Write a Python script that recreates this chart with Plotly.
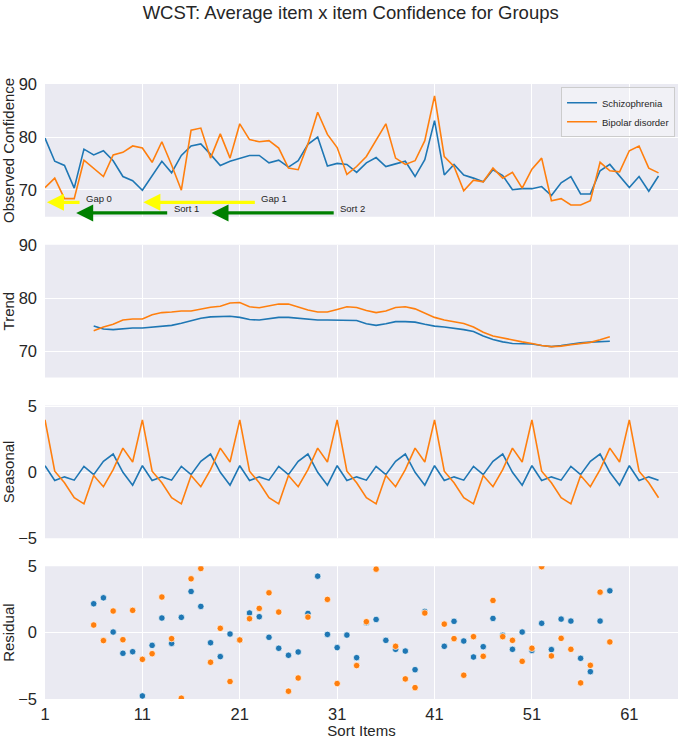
import plotly.graph_objects as go
from plotly.subplots import make_subplots

# ---------------- data ----------------
items = list(range(1, 65))
trend_items = list(range(6, 60))

observed_schizophrenia = [
    79.8, 75.4, 74.6, 70.3, 77.7, 76.6, 77.4, 75.5, 72.5, 71.7,
    69.9, 72.7, 75.4, 73.2, 76.5, 78.3, 78.7, 76.7, 74.6, 75.4,
    76.0, 76.5, 76.5, 75.1, 75.6, 74.3, 75.5, 78.6, 80.0, 74.5,
    75.0, 74.8, 73.3, 75.1, 76.1, 74.4, 74.9, 75.4, 72.5, 75.7,
    83.1, 72.8, 74.8, 72.8, 72.2, 71.5, 73.8, 72.7, 70.0, 70.2,
    70.2, 70.6, 68.9, 71.3, 72.5, 69.2, 69.2, 73.6, 74.8, 72.6,
    70.4, 72.5, 69.7, 72.6,
]
observed_bipolar = [
    70.4, 72.2, 68.3, 68.3, 75.6, 74.1, 72.5, 76.6, 77.1, 78.3,
    77.9, 75.2, 79.1, 74.7, 69.9, 81.3, 81.7, 76.0, 80.6, 76.0,
    82.5, 79.5, 79.1, 79.3, 77.9, 74.1, 73.8, 78.7, 84.7, 80.5,
    78.0, 72.9, 74.4, 76.3, 79.3, 82.5, 76.0, 74.8, 75.5, 79.3,
    87.8, 76.3, 74.4, 69.8, 71.8, 71.5, 74.1, 72.2, 73.3, 70.3,
    73.9, 76.0, 67.9, 68.3, 67.1, 67.1, 67.9, 75.2, 73.6, 73.4,
    77.4, 78.3, 74.1, 73.2,
]

trend_schizophrenia = [
    74.8, 74.2, 74.1, 74.3, 74.4, 74.4, 74.6, 74.75, 74.9, 75.3,
    75.8, 76.25, 76.5, 76.6, 76.6, 76.4, 76.0, 75.9, 76.2, 76.4,
    76.4, 76.2, 76.0, 75.9, 75.9, 75.9, 75.8, 75.8, 75.2, 74.9,
    75.2, 75.6, 75.6, 75.5, 75.1, 74.75, 74.6, 74.4, 74.1, 73.75,
    72.9, 72.25, 71.8, 71.5, 71.4, 71.4, 71.1, 70.9, 71.1, 71.4,
    71.6, 71.75, 71.8, 71.9,
]
trend_bipolar = [
    73.9, 74.6, 75.1, 75.9, 76.1, 76.1, 76.9, 77.3, 77.4, 77.6,
    77.6, 78.0, 78.3, 78.5, 79.1, 79.2, 78.4, 78.2, 78.5, 78.9,
    78.9, 78.3, 77.8, 77.4, 77.4, 77.9, 78.4, 78.25, 77.7, 77.3,
    77.6, 78.25, 78.4, 78.0, 77.2, 76.4, 75.9, 75.6, 75.25, 74.6,
    73.6, 72.9, 72.5, 72.1, 71.8, 71.5, 71.1, 70.9, 71.0, 71.25,
    71.5, 71.7, 72.2, 72.75,
]

seasonal_schizophrenia = [
    0.5, -0.63, -0.35, -0.6, 0.45, -0.18, 0.83, 1.39, 0.0, -0.98,
    0.5, -0.63, -0.35, -0.6, 0.45, -0.18, 0.83, 1.39, 0.0, -0.98,
    0.5, -0.63, -0.35, -0.6, 0.45, -0.18, 0.83, 1.39, 0.0, -0.98,
    0.5, -0.63, -0.35, -0.6, 0.45, -0.18, 0.83, 1.39, 0.0, -0.98,
    0.5, -0.63, -0.35, -0.6, 0.45, -0.18, 0.83, 1.39, 0.0, -0.98,
    0.5, -0.63, -0.35, -0.6, 0.45, -0.18, 0.83, 1.39, 0.0, -0.98,
    0.5, -0.63, -0.35, -0.6,
]
seasonal_bipolar = [
    3.99, 0.08, -0.8, -1.94, -2.4, -0.25, -1.1, 0.2, 1.84, 0.78,
    3.99, 0.08, -0.8, -1.94, -2.4, -0.25, -1.1, 0.2, 1.84, 0.78,
    3.99, 0.08, -0.8, -1.94, -2.4, -0.25, -1.1, 0.2, 1.84, 0.78,
    3.99, 0.08, -0.8, -1.94, -2.4, -0.25, -1.1, 0.2, 1.84, 0.78,
    3.99, 0.08, -0.8, -1.94, -2.4, -0.25, -1.1, 0.2, 1.84, 0.78,
    3.99, 0.08, -0.8, -1.94, -2.4, -0.25, -1.1, 0.2, 1.84, 0.78,
    3.99, 0.08, -0.8, -1.94,
]

residual_schizophrenia = [
    2.19, 2.64, 0.05, -1.56, -1.44, -4.79, -0.96, 1.11, -0.81, 1.16,
    3.12, 1.99, -0.76, -1.81, -0.1, -0.55, 1.49, 1.21, -0.35, -1.18,
    -1.71, -1.46, 1.46, 4.28, -0.13, -1.13, -0.18, -1.89, 0.76, 1.0,
    -0.58, -1.26, -1.39, -2.8, 1.61, None, -1.03, 0.86, -0.63, -1.84,
    -1.06, 1.08, -0.2, -1.26, 0.05, -1.34, 0.71, -1.28, 1.03, 0.88,
    -1.94, -2.95, 0.88, 3.17,
]
residual_bipolar = [
    0.58, -0.6, 1.64, -0.53, 1.69, -2.02, -1.59, 2.7, -0.45, -4.96,
    4.08, 4.86, -2.24, 0.33, -3.7, -0.55, 1.06, 1.84, 3.02, 1.56,
    -4.43, -3.43, 1.18, None, 2.52, -3.85, None, -2.49, 0.83, 4.81,
    None, -1.03, -3.5, -4.16, 1.49, None, 0.65, -0.45, -3.22, -0.3,
    -1.79, 2.44, -0.3, -0.58, -2.17, -1.18, 5.0, -1.76, -0.43, -1.26,
    -3.8, -2.47, 3.07, -0.7,
]

x_ticks = [1, 11, 21, 31, 41, 51, 61]
y_titles = ["Observed Confidence", "Trend", "Seasonal", "Residual"]

arrow_labels = ["Gap 0", "Gap 1", "Sort 1", "Sort 2"]
arrow_tail_x = [4.7, 22.7, 13.7, 30.8]
arrow_head_x = [1.2, 11.1, 4.2, 18.1]
arrow_y = [67.6, 67.6, 65.6, 65.6]
arrow_colors = ["#FFFF00", "#FFFF00", "#008000", "#008000"]

# ---------------- figure ----------------
BLUE = "#1f77b4"
ORANGE = "#ff7f0e"
FONT = "Liberation Sans, Arial, sans-serif"
TXT = "#262626"

fig = make_subplots(rows=4, cols=1, shared_xaxes=True, vertical_spacing=28 / 615)

fig.add_trace(go.Scatter(x=items, y=observed_schizophrenia, mode="lines", name="Schizophrenia",
                         line=dict(color=BLUE, width=1.6)), row=1, col=1)
fig.add_trace(go.Scatter(x=items, y=observed_bipolar, mode="lines", name="Bipolar disorder",
                         line=dict(color=ORANGE, width=1.6)), row=1, col=1)

fig.add_trace(go.Scatter(x=trend_items, y=trend_schizophrenia, mode="lines", showlegend=False,
                         line=dict(color=BLUE, width=1.6)), row=2, col=1)
fig.add_trace(go.Scatter(x=trend_items, y=trend_bipolar, mode="lines", showlegend=False,
                         line=dict(color=ORANGE, width=1.6)), row=2, col=1)

fig.add_trace(go.Scatter(x=items, y=seasonal_schizophrenia, mode="lines", showlegend=False,
                         line=dict(color=BLUE, width=1.6)), row=3, col=1)
fig.add_trace(go.Scatter(x=items, y=seasonal_bipolar, mode="lines", showlegend=False,
                         line=dict(color=ORANGE, width=1.6)), row=3, col=1)

fig.add_trace(go.Scatter(x=trend_items, y=residual_schizophrenia, mode="markers", showlegend=False,
                         marker=dict(color=BLUE, size=6.5, line=dict(color="white", width=0.7))),
              row=4, col=1)
fig.add_trace(go.Scatter(x=trend_items, y=residual_bipolar, mode="markers", showlegend=False,
                         marker=dict(color=ORANGE, size=6.5, line=dict(color="white", width=0.7))),
              row=4, col=1)

y_ranges = [[64.87, 90.06], [65.1, 90.05], [-5.02, 5.08], [-5.02, 5.03]]
y_ticks = [[70, 80, 90], [70, 80, 90], [-5, 0, 5], [-5, 0, 5]]

for r in range(1, 5):
    fig.update_xaxes(row=r, col=1, range=[1, 66], tickvals=x_ticks, showgrid=True,
                     gridcolor="white", gridwidth=1, zeroline=False, showline=False,
                     automargin=False, ticklabelstandoff=3,
                     tickfont=dict(family=FONT, size=16.5, color=TXT))
    fig.update_yaxes(row=r, col=1, range=y_ranges[r - 1], tickvals=y_ticks[r - 1], showgrid=True,
                     gridcolor="white", gridwidth=1, zeroline=False, showline=False,
                     automargin=False, ticklabelstandoff=7,
                     tickfont=dict(family=FONT, size=16.5, color=TXT),
                     title=dict(text=y_titles[r - 1], standoff=3,
                                font=dict(family=FONT, size=15, color=TXT)))

fig.update_xaxes(row=4, col=1, title=dict(text="Sort Items", standoff=4,
                                          font=dict(family=FONT, size=15, color=TXT)))

annotations = []
for lab, tx, hx, yy, col in zip(arrow_labels, arrow_tail_x, arrow_head_x, arrow_y, arrow_colors):
    annotations.append(dict(x=hx, y=yy, ax=tx, ay=yy, xref="x", yref="y", axref="x", ayref="y",
                            text="", showarrow=True, arrowhead=2, arrowsize=1, arrowwidth=3.4,
                            arrowcolor=col))
    annotations.append(dict(x=tx + 0.3, y=yy + 0.75, xref="x", yref="y", text=lab, showarrow=False,
                            xanchor="left", yanchor="middle",
                            font=dict(family=FONT, size=9.5, color=TXT)))

fig.update_layout(
    width=679, height=739,
    margin=dict(l=45, r=1, t=84, b=40),
    paper_bgcolor="white",
    plot_bgcolor="#EAEAF2",
    font=dict(family=FONT, color=TXT),
    title=dict(text="WCST: Average item x item Confidence for Groups",
               x=0.5165, xanchor="center", y=0.9835, yanchor="middle", yref="container",
               font=dict(family=FONT, size=18.5, color=TXT)),
    legend=dict(x=0.9953, xanchor="right", y=0.9946, yanchor="top",
                bgcolor="rgba(255,255,255,0.35)", bordercolor="#CCCCCC", borderwidth=1,
                font=dict(family=FONT, size=9.5, color=TXT), tracegroupgap=0, itemwidth=30),
    annotations=annotations,
    showlegend=True,
)

fig.write_html(
    "out.html",
    config={"displayModeBar": False},
    post_script="document.body.style.margin='0px';document.body.style.overflow='hidden';",
)
